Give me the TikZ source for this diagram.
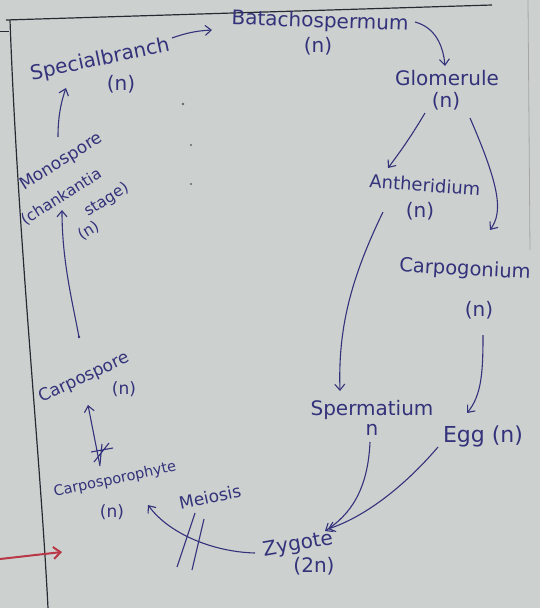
\documentclass[tikz,border=0pt]{standalone}
\usepackage{fontspec}
\setmainfont{DejaVu Sans}
\usetikzlibrary{arrows.meta,calc}
\definecolor{paper}{RGB}{204,209,208}
\definecolor{ink}{RGB}{52,50,122}
\definecolor{redink}{RGB}{185,55,70}
\definecolor{frame}{RGB}{40,42,50}
\begin{document}
\begin{tikzpicture}[x=1pt,y=-1pt,
  lab/.style={text=ink,font=\fontsize{20}{22}\selectfont,inner sep=0.5pt},
  mid/.style={text=ink,font=\fontsize{17}{19}\selectfont,inner sep=0.5pt},
  sml/.style={text=ink,font=\fontsize{14.5}{16}\selectfont,inner sep=0.5pt},
  arr/.style={draw=ink,line width=1.1pt,-{Straight Barb[length=6pt,width=10pt]}},
  ln/.style={draw=ink,line width=1.1pt},
  ]
\fill[paper] (0,0) rectangle (540,608);
\useasboundingbox (0,0) rectangle (540,608);
% page frame
\draw[frame,line width=1.2pt] (6,20) -- (492,5);
\draw[frame,line width=1.2pt] (10,20) .. controls (18,240) and (40,450) .. (48,608);
\draw[frame,line width=1pt] (0,31) -- (9,31);
\draw[black!35,line width=0.8pt] (528,0) -- (530,250);
% paper dots
\fill[black!60] (183,104) circle (1.3pt) (191,145) circle (1.2pt) (191,184) circle (1.1pt);

% labels
\node[lab,rotate=12] (sb) at (100,60) {Specialbranch};
\node[lab] (sbn) at (121,84) {(n)};
\node[lab,rotate=-2] (bat) at (320,22) {Batachospermum};
\node[lab] (batn) at (318,46) {(n)};
\node[lab] (glo) at (447,78) {Glomerule};
\node[lab] (glon) at (446,101) {(n)};
\node[mid,font=\fontsize{18}{20}\selectfont,rotate=-4] (ant) at (425,185) {Antheridium};
\node[lab] (antn) at (420,211) {(n)};
\node[lab,font=\fontsize{19.5}{21}\selectfont,rotate=-3] (car) at (465,270) {Carpogonium};
\node[lab] (carn) at (479,310) {(n)};
\node[lab] (spe) at (372,410) {Spermatium};
\node[lab] (spen) at (372,430) {n};
\node[lab,font=\fontsize{22}{24}\selectfont] (egg) at (483,436) {Egg (n)};
\node[lab,rotate=10] (zyg) at (298,545) {Zygote};
\node[lab] (zygn) at (314,566) {(2n)};
\node[mid,rotate=12] (mei) at (210,497) {Meiosis};
\node[sml,rotate=12] (cps) at (115,480) {Carposporophyte};
\node[sml,font=\fontsize{17}{19}\selectfont] (cpsn) at (112,512) {(n)};
\node[mid,rotate=25] (csp) at (84,378) {Carpospore};
\node[mid] (cspn) at (124,389) {(n)};
\node[sml,font=\fontsize{15.5}{22}\selectfont,rotate=32,align=left] (mon) at (73,197)
  {\hspace*{18pt}{\fontsize{17}{22}\selectfont Monospore}\\[8pt]
   (chankantia\\[4pt]
   \hspace*{58pt}stage)\\[-5pt]
   \hspace*{40pt}(n)};

% connectors
\draw[arr] ($(sb)+(72,-22)$) to[bend left=8] ($(bat)+(-108,8)$);
\draw[arr] ($(bat)+(95,0)$) to[out=-15,in=95] ($(glo)+(-2,-12)$);
\draw[arr] ($(glo)+(-22,35)$) to[bend left=3] ($(ant)+(-37,-17)$);
\draw[arr] ($(glo)+(23,40)$) .. controls (500,187) and (503,212) .. ($(car)+(25,-40)$);
\draw[arr] ($(ant)+(-42,27)$) .. controls (350,280) and (338,330) .. ($(spe)+(-32,-19)$);
\draw[arr] ($(carn)+(4,25)$) .. controls (483,370) and (482,395) .. ($(egg)+(-16,-23)$);
\draw[arr] ($(spen)+(-2,12)$) .. controls (368,490) and (350,515) .. ($(zyg)+(27,-14)$);
\draw[arr] ($(egg)+(-45,11)$) .. controls (410,480) and (370,515) .. ($(zyg)+(30,-16)$);
\draw[arr] ($(zyg)+(-43,8)$) .. controls (215,552) and (170,535) .. ($(cps)+(33,25)$);
\draw[ln] (177,567) -- (195,513);
\draw[ln] (192,570) -- (204,519);
\draw[arr] ($(cps)+(-15,-14)$) -- ($(csp)+(4,27)$);
\draw[ln] (91,452) -- (113,448) (94,462) -- (109,443) (100,464) -- (102,444);
\fill[ink] (79,337) circle (1.4pt);
\draw[arr] (79,337) .. controls (72,300) and (62,260) .. ($(mon)+(-11,13)$);
\draw[arr] ($(mon)+(-15,-60)$) .. controls (58,120) and (60,105) .. ($(sb)+(-34,28)$);
% red marker arrow
\draw[redink,line width=2pt,-{Straight Barb[length=7pt,width=12pt]}] (0,559) -- (62,552);
\end{tikzpicture}
\end{document}
